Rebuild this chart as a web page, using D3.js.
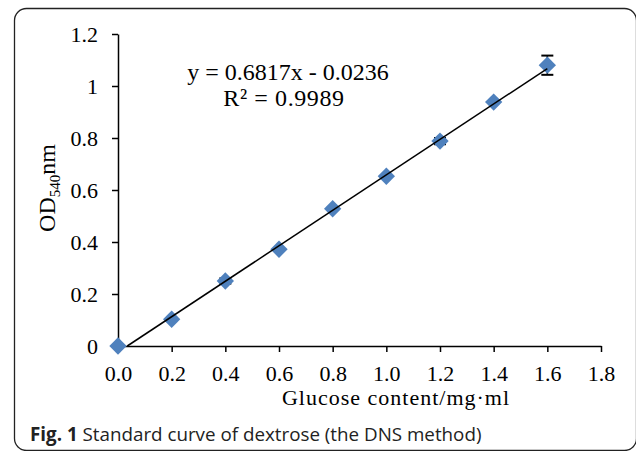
<!DOCTYPE html>
<html>
<head>
<meta charset="utf-8">
<script src="https://cdn.jsdelivr.net/npm/d3@7"></script>
<style>
  html, body { margin: 0; padding: 0; background: #fff; }
  svg { display: block; }
</style>
</head>
<body>
<div id="chart"></div>
<script>
'use strict';

// glucose content (mg/ml) vs OD540
const glucose = [0.0, 0.2, 0.4, 0.6, 0.8, 1.0, 1.2, 1.4, 1.6];
const od540 = [0.0, 0.103, 0.25, 0.372, 0.528, 0.653, 0.788, 0.938, 1.08];
const odError = [0, 0, 0.01, 0, 0, 0, 0.012, 0, 0.037];
const xTicks = [0.0, 0.2, 0.4, 0.6, 0.8, 1.0, 1.2, 1.4, 1.6, 1.8];
const yTicks = [0, 0.2, 0.4, 0.6, 0.8, 1, 1.2];
const slope = 0.6817;
const intercept = -0.0236;
const rSquared = 0.9989;

const width = 636;
const height = 451;
const markerColor = '#4f81bd';
const serif = '"Liberation Serif", "Times New Roman", serif';

const svg = d3.select('#chart').append('svg')
  .attr('width', width)
  .attr('height', height);

// figure frame with rounded corners
svg.append('rect')
  .attr('x', 14.5)
  .attr('y', 8.5)
  .attr('width', 622)
  .attr('height', 442)
  .attr('rx', 12)
  .attr('fill', 'none')
  .attr('stroke', '#222')
  .attr('stroke-width', 1.3);

const xScale = d3.scaleLinear().domain([0, 1.8]).range([118, 601]);
const yScale = d3.scaleLinear().domain([0, 1.2]).range([346, 34]);

const xAxis = d3.axisBottom(xScale)
  .tickValues(xTicks)
  .tickSize(6)
  .tickSizeOuter(0)
  .tickPadding(13)
  .tickFormat(d3.format('.1f'));

const yAxis = d3.axisLeft(yScale)
  .tickValues(yTicks)
  .tickSize(6)
  .tickSizeOuter(0)
  .tickPadding(14)
  .tickFormat(function (d) { return String(d); });

const xAxisElement = svg.append('g')
  .attr('transform', 'translate(0,' + yScale(0) + ')')
  .call(xAxis);

const yAxisElement = svg.append('g')
  .attr('transform', 'translate(' + xScale(0) + ',0)')
  .call(yAxis);

[xAxisElement, yAxisElement].forEach(function (axis) {
  axis.selectAll('path, line')
    .attr('stroke', '#000')
    .attr('stroke-width', 1.5);
  axis.selectAll('text')
    .attr('fill', '#000')
    .style('font-family', serif)
    .style('font-size', '22px');
});

// error bars
const errorBars = svg.append('g')
  .selectAll('g')
  .data(glucose.map(function (g, i) { return { x: g, y: od540[i], e: odError[i] }; })
    .filter(function (d) { return d.e > 0; }))
  .enter().append('g')
  .attr('stroke', '#000')
  .attr('stroke-width', 1.5);

errorBars.append('line')
  .attr('x1', function (d) { return xScale(d.x); })
  .attr('x2', function (d) { return xScale(d.x); })
  .attr('y1', function (d) { return yScale(d.y - d.e); })
  .attr('y2', function (d) { return yScale(d.y + d.e); });

[-1, 1].forEach(function (sign) {
  errorBars.append('line')
    .attr('x1', function (d) { return xScale(d.x) - 6; })
    .attr('x2', function (d) { return xScale(d.x) + 6; })
    .attr('y1', function (d) { return yScale(d.y + sign * d.e); })
    .attr('y2', function (d) { return yScale(d.y + sign * d.e); })
    .attr('stroke-width', 2);
});

// diamond markers
const diamond = d3.symbol().type(d3.symbolSquare).size(150);
svg.append('g')
  .selectAll('path')
  .data(glucose)
  .enter().append('path')
  .attr('d', diamond)
  .attr('transform', function (d, i) {
    return 'translate(' + xScale(d) + ',' + yScale(od540[i]) + ') rotate(45)';
  })
  .attr('fill', markerColor);

// linear trendline, starting where it crosses the x axis
const xStart = -intercept / slope;
const xEnd = d3.max(glucose);
svg.append('line')
  .attr('x1', xScale(xStart))
  .attr('y1', yScale(slope * xStart + intercept))
  .attr('x2', xScale(xEnd))
  .attr('y2', yScale(slope * xEnd + intercept))
  .attr('stroke', '#000')
  .attr('stroke-width', 1.5);

// equation label
const eq = svg.append('g')
  .style('font-family', serif)
  .style('font-size', '24px')
  .attr('text-anchor', 'middle')
  .attr('fill', '#000');

eq.append('text')
  .attr('x', 288)
  .attr('y', 80)
  .text('y = ' + slope + 'x - ' + Math.abs(intercept));

eq.append('text')
  .attr('x', 284)
  .attr('y', 106)
  .style('letter-spacing', '0.6px')
  .text('R² = ' + rSquared);

// axis titles
svg.append('text')
  .attr('x', 396)
  .attr('y', 405)
  .attr('text-anchor', 'middle')
  .style('font-family', serif)
  .style('font-size', '22px')
  .style('letter-spacing', '1px')
  .text('Glucose content/mg·ml');

const yTitle = svg.append('text')
  .attr('transform', 'translate(55,188) rotate(-90)')
  .attr('text-anchor', 'middle')
  .style('font-family', serif)
  .style('font-size', '24px');
yTitle.append('tspan').text('OD');
yTitle.append('tspan').attr('dy', 5).style('font-size', '15px').text('540');
yTitle.append('tspan').attr('dy', -5).text('nm');

// caption
const caption = svg.append('text')
  .attr('x', 30)
  .attr('y', 441)
  .style('font-family', '"Open Sans", "Noto Sans", sans-serif')
  .style('font-size', '18.8px')
  .attr('fill', '#222');
caption.append('tspan').style('font-weight', 'bold').text('Fig. 1');
caption.append('tspan').text(' Standard curve of dextrose (the DNS method)');
</script>
</body>
</html>
